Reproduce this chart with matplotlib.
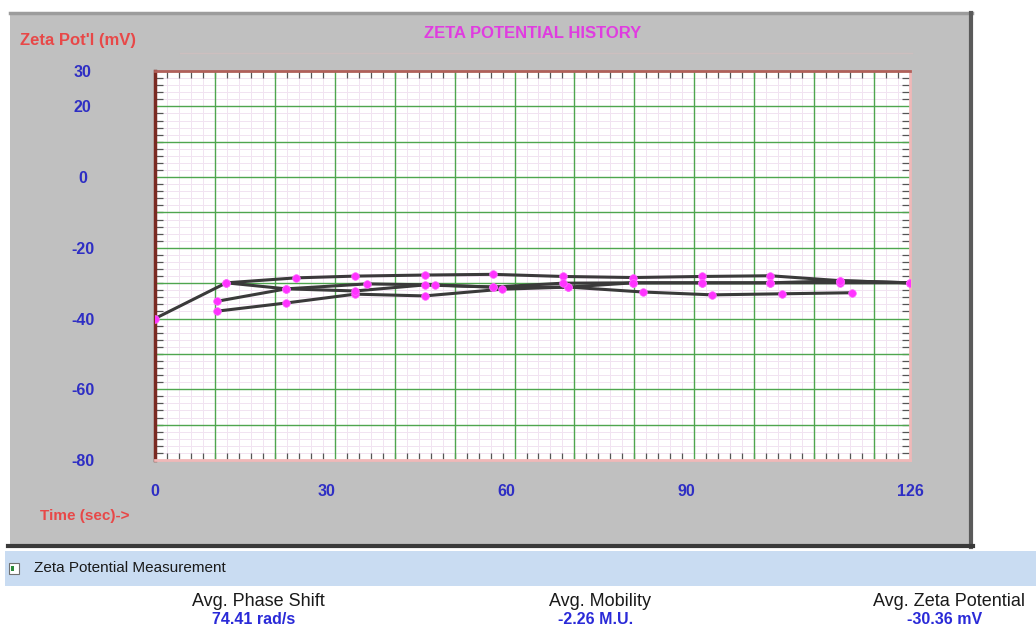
import numpy as np
import matplotlib.pyplot as plt
from matplotlib.patches import Rectangle
from matplotlib.lines import Line2D
from matplotlib.transforms import ScaledTranslation

# zeta potential runs: time (sec) and potential (mV)
run1_t = [0, 11.9, 23.5, 33.4, 45.0, 56.4, 68.1, 79.8, 91.3, 102.7, 114.4, 126]
run1_v = [-40.0, -29.9, -28.5, -28.0, -27.7, -27.5, -28.1, -28.4, -28.1, -27.9, -29.3, -29.9]
run2_t = [10.4, 21.9, 35.4, 46.7, 56.4, 69.0, 79.8, 91.3, 102.7, 114.4, 126]
run2_v = [-35.1, -31.6, -30.2, -30.5, -31.1, -31.1, -29.9, -29.9, -29.9, -29.9, -29.9]
run3_t = [10.4, 21.9, 33.4, 45.0, 57.9, 69.0, 81.5, 93.0, 104.7, 116.4]
run3_v = [-37.9, -35.6, -33.1, -33.6, -31.7, -31.1, -32.5, -33.3, -33.0, -32.7]
run4_t = [11.9, 21.9, 33.4, 45.0, 56.4, 68.1, 79.8, 91.3, 102.7, 114.4, 126]
run4_v = [-29.9, -31.6, -32.2, -30.5, -31.1, -30.0, -29.9, -29.9, -29.9, -29.3, -29.9]
runs = [(run1_t, run1_v), (run2_t, run2_v), (run3_t, run3_v), (run4_t, run4_v)]

x_ticks = [0, 30, 60, 90, 126]
y_ticks = [30, 20, 0, -20, -40, -60, -80]

summary_names = ["Avg. Phase Shift", "Avg. Mobility", "Avg. Zeta Potential"]
summary_values = ["74.41 rad/s", "-2.26 M.U.", "-30.36 mV"]

W, H = 1036, 628


def fx(px):
    return px / W


def fy(py):
    return 1 - py / H


font = ['Liberation Sans', 'DejaVu Sans']

fig = plt.figure(figsize=(W / 100, H / 100), dpi=100)
fig.patch.set_facecolor('white')

# grey chart panel with its frame and shadow
fig.patches.append(Rectangle((fx(10), fy(545)), 960 / W, 531 / H, transform=fig.transFigure,
                             fc='#c0c0c0', ec='none', zorder=-2))
fig.lines.append(Line2D([fx(10), fx(972)], [fy(13), fy(13)], transform=fig.transFigure,
                        color='#9c9c9c', lw=2.5, zorder=-1))
fig.lines.append(Line2D([fx(971), fx(971)], [fy(13), fy(547)], transform=fig.transFigure,
                        color='#5a5a5a', lw=3, zorder=-1))
fig.lines.append(Line2D([fx(8), fx(973)], [fy(546), fy(546)], transform=fig.transFigure,
                        color='#3a3a3a', lw=3, zorder=-1))
fig.lines.append(Line2D([fx(180), fx(912)], [fy(53), fy(53)], transform=fig.transFigure,
                        color='#cdbfbf', lw=1, zorder=-1))

# status bar
fig.patches.append(Rectangle((fx(5), fy(586)), 1031 / W, 35 / H, transform=fig.transFigure,
                             fc='#c9dcf2', ec='none', zorder=-2))
fig.patches.append(Rectangle((fx(9), fy(574)), 10 / W, 11 / H, transform=fig.transFigure,
                             fc='white', ec='#707070', lw=0.8, zorder=-1))
fig.patches.append(Rectangle((fx(11), fy(571)), 3 / W, 5 / H, transform=fig.transFigure,
                             fc='#2c8a3c', ec='none', zorder=-1))
fig.text(fx(34), fy(568), "Zeta Potential Measurement", fontsize=11, color='#1a1a1a',
         family=font, ha='left', va='center')

ax = fig.add_axes([fx(155), fy(460), 755 / W, 389 / H])
ax.set_zorder(5)
ax.set_facecolor('white')
ax.set_xlim(0, 126)
ax.set_ylim(-80, 30)

# graph paper: fine pale grid, green every 10
for gx in np.arange(2, 126, 2):
    ax.axvline(gx, color='#f1e3f1', lw=0.7, zorder=1)
for gy in np.arange(-78, 30, 2):
    ax.axhline(gy, color='#f1e3f1', lw=0.7, zorder=1)
for gx in np.arange(10, 126, 10):
    ax.axvline(gx, color='#4ea64e', lw=1.0, zorder=2)
for gy in np.arange(-70, 30, 10):
    ax.axhline(gy, color='#4ea64e', lw=1.0, zorder=2)

for t, v in runs:
    ax.plot(t, v, color='#3a3a3a', lw=2.2, zorder=3)
for t, v in runs:
    ax.plot(t, v, ls='none', marker='o', ms=5.5, mfc='#ff33ff', mec='#ff66ff', mew=0.5, zorder=4)

ax.set_xticks(x_ticks)
ax.set_xticklabels([str(x) for x in x_ticks])
ax.set_yticks(y_ticks)
ax.set_yticklabels([str(y) for y in y_ticks])
ax.set_xticks(np.arange(0, 127, 2), minor=True)
ax.set_yticks(np.arange(-80, 31, 2), minor=True)
ax.tick_params(which='major', length=0, colors='#2e2ec4')
ax.tick_params(axis='x', which='major', pad=17)
ax.tick_params(axis='y', which='major', pad=52)
ax.tick_params(which='minor', direction='in', color='#555555', width=0.9,
               top=True, bottom=True, left=True, right=True)
ax.tick_params(axis='x', which='minor', length=5)
ax.tick_params(axis='y', which='minor', length=6)
for lab in ax.get_xticklabels() + ax.get_yticklabels():
    lab.set_fontweight('bold')
    lab.set_fontsize(11.5)
    lab.set_family(font)
for lab in ax.get_yticklabels():
    lab.set_horizontalalignment('center')
# the middle time labels sit a little left of their gridline
nudge = ScaledTranslation(-0.08, 0, fig.dpi_scale_trans)
for lab in ax.get_xticklabels()[1:4]:
    lab.set_transform(lab.get_transform() + nudge)

ax.spines['left'].set_color('#7a2a22')
ax.spines['left'].set_linewidth(2.5)
ax.spines['top'].set_color('#b0605a')
ax.spines['top'].set_linewidth(2)
ax.spines['bottom'].set_color('#f0b8b8')
ax.spines['bottom'].set_linewidth(2)
ax.spines['right'].set_color('#f0b8b8')
ax.spines['right'].set_linewidth(2)

fig.text(fx(533), fy(33), "ZETA POTENTIAL HISTORY", color='#e03ce0', fontsize=12,
         fontweight='bold', family=font, ha='center', va='center')
fig.text(fx(20), fy(40), "Zeta Pot'l (mV)", color='#e84848', fontsize=12,
         fontweight='bold', family=font, ha='left', va='center')
fig.text(fx(40), fy(516), "Time (sec)->", color='#e84848', fontsize=11,
         fontweight='bold', family=font, ha='left', va='center')

# averages under the status bar
for cx, name, val in zip([258, 600, 949], summary_names, summary_values):
    fig.text(fx(cx), fy(601), name, fontsize=13, color='#1a1a1a', family=font,
             ha='center', va='center')
    fig.text(fx(cx - 4), fy(619), val, fontsize=11.5, color='#2a2ad8', fontweight='bold',
             family=font, ha='center', va='center')

plt.savefig("out.png", dpi=100)
